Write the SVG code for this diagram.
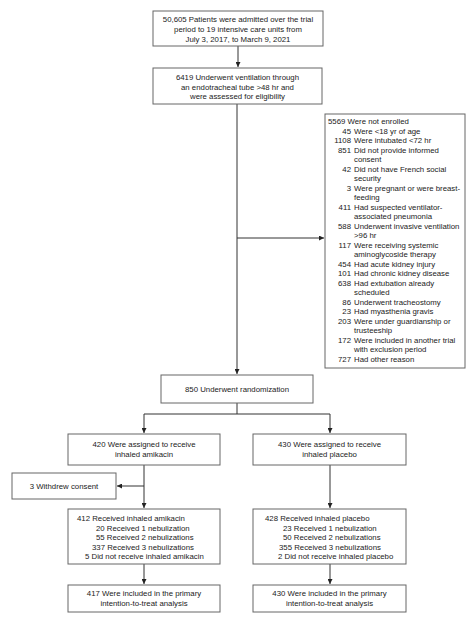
<svg xmlns="http://www.w3.org/2000/svg" width="474" height="623" viewBox="0 0 474 623">
<style>
.box{fill:#fff;stroke:#666;stroke-width:1}
.ln{fill:none;stroke:#333;stroke-width:1}
text{font-family:"Liberation Sans",Arial,sans-serif;font-size:7.8px;fill:#222}
.c{text-anchor:middle}
.e{text-anchor:end}
</style>
<defs>
<marker id="ah" viewBox="0 0 6 6" refX="6" refY="3" markerWidth="5" markerHeight="5" orient="auto" markerUnits="userSpaceOnUse">
<path d="M0,0 L6,3 L0,6 z" fill="#222"/>
</marker>
</defs>
<rect width="474" height="623" fill="#fff"/>
<g id="connectors">
<path class="ln" d="M238,46 V67" marker-end="url(#ah)"/>
<path class="ln" d="M237,104 V374" marker-end="url(#ah)"/>
<path class="ln" d="M237,238 H324" marker-end="url(#ah)"/>
<path class="ln" d="M237,403 V414 H144"/>
<path class="ln" d="M237,414 H330"/>
<path class="ln" d="M144,414 V433" marker-end="url(#ah)"/>
<path class="ln" d="M330,414 V433" marker-end="url(#ah)"/>
<path class="ln" d="M144,465 V508" marker-end="url(#ah)"/>
<path class="ln" d="M144,486 H117" marker-end="url(#ah)"/>
<path class="ln" d="M330,465 V508" marker-end="url(#ah)"/>
<path class="ln" d="M144,564 V584" marker-end="url(#ah)"/>
<path class="ln" d="M330,564 V584" marker-end="url(#ah)"/>
</g>
<g id="n1">
<rect class="box" x="153" y="11" width="170" height="35"/>
<text class="c" x="238" y="22">50,605 Patients were admitted over the trial</text>
<text class="c" x="238" y="31.8">period to 19 intensive care units from</text>
<text class="c" x="238" y="41.6">July 3, 2017, to March 9, 2021</text>
</g>
<g id="n2">
<rect class="box" x="153" y="68" width="169" height="36"/>
<text class="c" x="237.5" y="80">6419 Underwent ventilation through</text>
<text class="c" x="237.5" y="89.6">an endotracheal tube &gt;48 hr and</text>
<text class="c" x="237.5" y="99.2">were assessed for eligibility</text>
</g>
<g id="n3">
<rect class="box" x="325" y="114" width="140" height="254"/>
<text x="328" y="124">5569 Were not enrolled</text>
<text class="e" x="351" y="133.5">45</text><text x="354" y="133.5">Were &lt;18 yr of age</text>
<text class="e" x="351" y="143">1108</text><text x="354" y="143">Were intubated &lt;72 hr</text>
<text class="e" x="351" y="152.5">851</text><text x="354" y="152.5">Did not provide informed</text>
<text x="354" y="162">consent</text>
<text class="e" x="351" y="171.5">42</text><text x="354" y="171.5">Did not have French social</text>
<text x="354" y="181">security</text>
<text class="e" x="351" y="190.5">3</text><text x="354" y="190.5">Were pregnant or were breast-</text>
<text x="354" y="200">feeding</text>
<text class="e" x="351" y="209.5">411</text><text x="354" y="209.5">Had suspected ventilator-</text>
<text x="354" y="219">associated pneumonia</text>
<text class="e" x="351" y="228.5">588</text><text x="354" y="228.5">Underwent invasive ventilation</text>
<text x="354" y="238">&gt;96 hr</text>
<text class="e" x="351" y="247.5">117</text><text x="354" y="247.5">Were receiving systemic</text>
<text x="354" y="257">aminoglycoside therapy</text>
<text class="e" x="351" y="266.5">454</text><text x="354" y="266.5">Had acute kidney injury</text>
<text class="e" x="351" y="276">101</text><text x="354" y="276">Had chronic kidney disease</text>
<text class="e" x="351" y="285.5">638</text><text x="354" y="285.5">Had extubation already</text>
<text x="354" y="295">scheduled</text>
<text class="e" x="351" y="304.5">86</text><text x="354" y="304.5">Underwent tracheostomy</text>
<text class="e" x="351" y="314">23</text><text x="354" y="314">Had myasthenia gravis</text>
<text class="e" x="351" y="323.5">203</text><text x="354" y="323.5">Were under guardianship or</text>
<text x="354" y="333">trusteeship</text>
<text class="e" x="351" y="342.5">172</text><text x="354" y="342.5">Were included in another trial</text>
<text x="354" y="352">with exclusion period</text>
<text class="e" x="351" y="361.5">727</text><text x="354" y="361.5">Had other reason</text>
</g>
<g id="n4">
<rect class="box" x="161" y="375" width="152" height="28"/>
<text class="c" x="237" y="392">850 Underwent randomization</text>
</g>
<g id="n5">
<rect class="box" x="68" y="434" width="152" height="31"/>
<text class="c" x="144" y="447">420 Were assigned to receive</text>
<text class="c" x="144" y="456.5">inhaled amikacin</text>
</g>
<g id="n6">
<rect class="box" x="253" y="434" width="153" height="31"/>
<text class="c" x="329.5" y="447">430 Were assigned to receive</text>
<text class="c" x="329.5" y="456.5">inhaled placebo</text>
</g>
<g id="n7">
<rect class="box" x="12" y="473" width="104" height="26"/>
<text class="c" x="64" y="489">3 Withdrew consent</text>
</g>
<g id="n8">
<rect class="box" x="68" y="509" width="152" height="55"/>
<text x="77" y="521">412 Received inhaled amikacin</text>
<text x="96" y="530.5">20 Received 1 nebulization</text>
<text x="96" y="540">55 Received 2 nebulizations</text>
<text x="92" y="549.5">337 Received 3 nebulizations</text>
<text x="85" y="559">5 Did not receive inhaled amikacin</text>
</g>
<g id="n9">
<rect class="box" x="253" y="509" width="153" height="55"/>
<text x="265" y="521">428 Received inhaled placebo</text>
<text x="283" y="530.5">23 Received 1 nebulization</text>
<text x="283" y="540">50 Received 2 nebulizations</text>
<text x="279" y="549.5">355 Received 3 nebulizations</text>
<text x="278" y="559">2 Did not receive inhaled placebo</text>
</g>
<g id="n10">
<rect class="box" x="68" y="585" width="152" height="27"/>
<text class="c" x="144" y="596">417 Were included in the primary</text>
<text class="c" x="144" y="605.5">intention-to-treat analysis</text>
</g>
<g id="n11">
<rect class="box" x="253" y="585" width="153" height="27"/>
<text class="c" x="329.5" y="596">430 Were included in the primary</text>
<text class="c" x="329.5" y="605.5">intention-to-treat analysis</text>
</g>
</svg>
